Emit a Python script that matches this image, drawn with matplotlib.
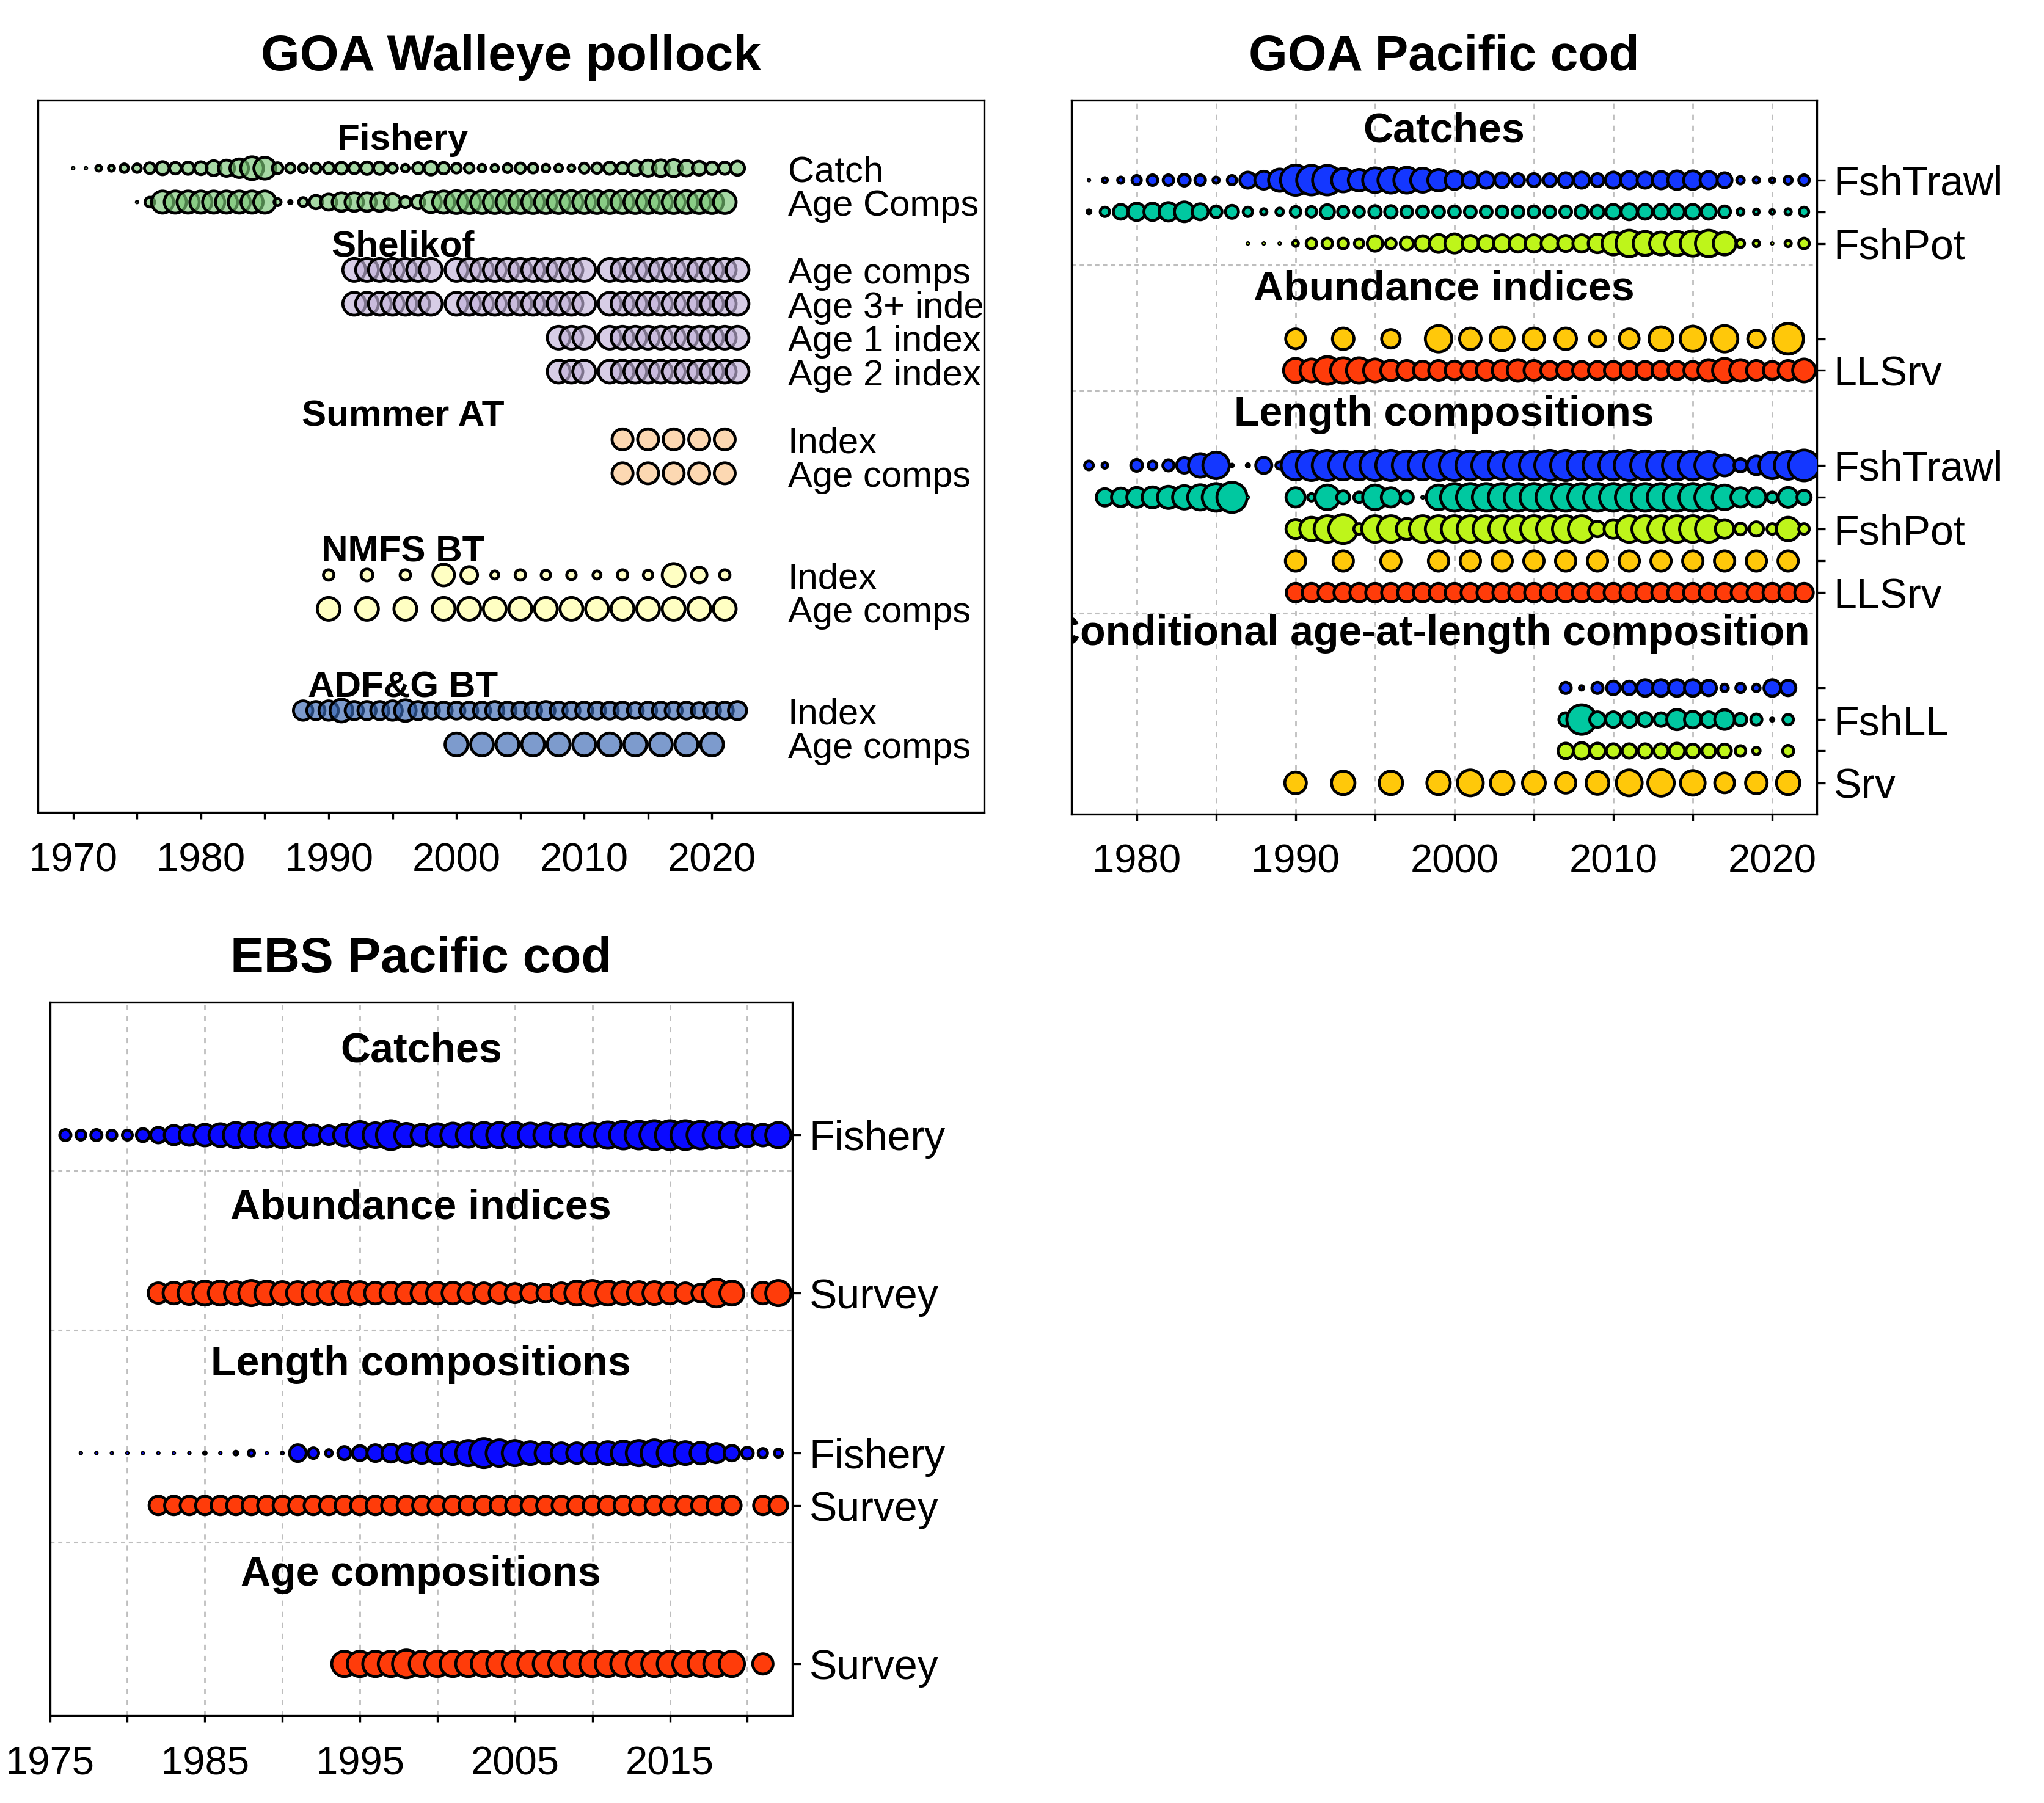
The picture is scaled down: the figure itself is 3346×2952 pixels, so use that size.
import numpy as np
import matplotlib.pyplot as plt
from matplotlib.colors import to_rgba

DPI = 200
EDGE_LW = 1.7                      # bubble outline width, points
EDGE_PX = EDGE_LW * DPI / 72.0     # same, in output pixels
PK_DMAX = 42.0                     # largest bubble in the pollock panel, output pixels

plt.rcParams['font.family'] = ['Liberation Sans', 'DejaVu Sans']

# ---------------- GOA walleye pollock ----------------
# catch in kt (bubble area ~ catch), other rows are relative sample sizes
pk_catch_years = np.arange(1970, 2023)
pk_catch = [9, 9, 35, 37, 60, 60, 86, 118, 96, 105, 115, 147, 169, 215, 307, 284, 87, 69, 65, 78,
            90, 100, 90, 108, 107, 72, 51, 90, 125, 95, 73, 72, 51, 50, 63, 80, 72, 52, 52, 44,
            77, 81, 104, 96, 142, 168, 177, 186, 158, 129, 108, 104, 133]

pk_fage_years = np.arange(1975, 2022)
pk_fage = [0.015, 0.24, 0.95, 0.95, 0.95, 0.95, 0.95, 0.95, 0.95, 0.95, 0.95,
           0.15, 0.06, 0.21, 0.40, 0.54, 0.69, 0.69, 0.69, 0.69, 0.57, 0.29, 0.40, 0.86, 0.95,
           1, 1, 1, 1, 1, 1, 1, 1, 1, 1, 1, 1, 1, 1, 1, 1, 1, 1, 1, 1, 1, 1]

pk_shel_years = [1992, 1993, 1994, 1995, 1996, 1997, 1998,
                 2000, 2001, 2002, 2003, 2004, 2005, 2006, 2007, 2008, 2009, 2010,
                 2012, 2013, 2014, 2015, 2016, 2017, 2018, 2019, 2020, 2021, 2022]
pk_shel_age12_years = [2008, 2009, 2010, 2012, 2013, 2014, 2015, 2016, 2017, 2018, 2019,
                       2020, 2021, 2022]

pk_sumat_years = [2013, 2015, 2017, 2019, 2021]

pk_nmfs_years = [1990, 1993, 1996, 1999, 2001, 2003, 2005, 2007, 2009, 2011, 2013, 2015,
                 2017, 2019, 2021]
pk_nmfs_index = [0.27, 0.33, 0.27, 0.91, 0.58, 0.18, 0.27, 0.23, 0.23, 0.18, 0.27, 0.23,
                 1.0, 0.51, 0.27]

pk_adfg_years = np.arange(1988, 2023)
pk_adfg_index = [0.75, 0.67, 0.75, 1.0, 0.67, 0.67, 0.67, 0.75, 0.91, 0.67,
                 0.6, 0.6, 0.6, 0.6, 0.6, 0.67, 0.6, 0.6, 0.6, 0.67,
                 0.6, 0.6, 0.6, 0.6, 0.6, 0.6, 0.53, 0.6, 0.6, 0.6,
                 0.6, 0.53, 0.6, 0.6, 0.67]
pk_adfg_age_years = [2000, 2002, 2004, 2006, 2008, 2010, 2012, 2014, 2016, 2018, 2020]

# ---------------- GOA Pacific cod (bubble diameters, px) ----------------
gc_catch_years = np.arange(1977, 2023)
gc_catch_trawl = [7, 13, 15, 20, 22, 22, 24, 22, 15, 20, 31, 34, 41, 54, 53, 53, 43, 40, 45, 47,
                  47, 44, 40, 35, 31, 31, 29, 26, 26, 26, 29, 31, 26, 31, 33, 31, 33, 35, 35, 33,
                  29, 17, 15, 13, 18, 22]
gc_catch_ll = [11, 20, 29, 33, 33, 35, 37, 31, 24, 26, 20, 15, 17, 22, 22, 28, 23, 22, 25, 25,
               24, 24, 24, 24, 24, 24, 24, 24, 24, 24, 24, 26, 26, 29, 31, 29, 29, 29, 29, 29,
               24, 16, 14, 12, 15, 20]
gc_pot_years = np.arange(1987, 2023)
gc_catch_pot = [6, 6, 5, 14, 22, 22, 22, 20, 30, 22, 26, 30, 34, 36, 31, 31, 33, 33, 33, 33,
                31, 33, 35, 42, 48, 44, 42, 44, 46, 48, 42, 18, 15, 7, 15, 22]

gc_srv_years = [1990, 1993, 1996, 1999, 2001, 2003, 2005, 2007, 2009, 2011, 2013, 2015,
                2017, 2019, 2021]
gc_srv_index = [37, 40, 35, 48, 40, 44, 40, 40, 31, 37, 44, 46, 48, 33, 55]
gc_llsrv_years = np.arange(1990, 2023)
gc_llsrv_index = [44, 42, 50, 46, 46, 42, 38, 37, 35, 37, 35, 35, 37, 37, 40, 37, 34, 34, 34, 34,
                  34, 34, 34, 34, 34, 34, 40, 44, 40, 37, 34, 37, 42]

gc_len_trawl_years = [1977, 1978] + list(range(1980, 2023))
gc_len_trawl = [19, 14, 24, 19, 23, 30, 43, 48, 9, 10, 31, 17,
                52, 54, 54, 52, 52, 54, 54, 52, 52, 54, 54, 52, 52, 50, 52, 52, 54, 54, 52, 52,
                52, 54, 52, 52, 52, 52, 50, 39, 26, 35, 48, 50, 55]
gc_len_ll_years = list(range(1978, 1988)) + list(range(1990, 2023))
gc_len_ll = [33, 35, 37, 39, 41, 43, 46, 50, 54, 5,
             36, 17, 45, 26, 22, 45, 36, 26, 8, 45,
             50, 50, 50, 50, 50, 50, 50, 50, 50, 50, 50, 50, 50, 50, 50, 50, 50,
             45, 36, 36, 22, 37, 28]
gc_len_pot = [36, 43, 48, 52, 22, 48, 48, 39, 48, 48, 48, 48, 48, 48, 48, 48, 48, 48, 48, 30,
              35, 48, 48, 48, 48, 48, 48, 35, 24, 28, 22, 43, 22]
gc_len_srv = [38, 38, 38, 38, 38, 38, 38, 38, 38, 38, 38, 38, 38, 38, 38]
gc_len_llsrv = [35, 35, 35, 35, 35, 35, 35, 35, 35, 35, 35, 35, 35, 35, 35, 35, 35,
                35, 35, 35, 35, 35, 35, 35, 35, 35, 35, 35, 35, 35, 35, 35, 35]

gc_caal_years = np.arange(2007, 2022)
gc_caal_trawl = [23, 12, 23, 27, 27, 32, 32, 32, 32, 30, 17, 20, 17, 32, 30]
gc_caal_ll = [27, 53, 30, 30, 30, 28, 27, 38, 32, 30, 37, 25, 23, 10, 22]
gc_caal_pot_years = [2007, 2008, 2009, 2010, 2011, 2012, 2013, 2014, 2015, 2016, 2017, 2018,
                     2019, 2021]
gc_caal_pot = [30, 32, 30, 28, 28, 28, 28, 30, 27, 27, 27, 22, 17, 23]
gc_caal_srv = [40, 43, 43, 43, 47, 43, 42, 38, 42, 47, 48, 45, 37, 40, 43]

# ---------------- EBS Pacific cod (bubble diameters, px) ----------------
ebs_catch_years = np.arange(1976, 2023)
ebs_catch = [23, 21, 23, 21, 21, 26, 30, 36, 38, 40, 42, 46, 46, 44, 46, 46, 38, 35, 40, 49,
             45, 52, 43, 40, 42, 44, 44, 46, 46, 46, 44, 44, 42, 42, 44, 48, 50, 50, 52, 52,
             52, 50, 48, 46, 42, 40, 46]
ebs_srv_years = list(range(1982, 2020)) + [2021, 2022]
ebs_srv_index = [38, 40, 42, 44, 44, 42, 46, 44, 42, 42, 42, 42, 44, 42, 40, 40, 40, 40, 40, 40,
                 38, 38, 38, 36, 36, 34, 38, 44, 46, 44, 42, 42, 42, 40, 38, 34, 50, 44, 40, 46]
ebs_len_fsh_years = np.arange(1977, 2023)
ebs_len_fsh = [5, 5, 5, 5, 5, 4, 6, 7, 9, 7, 11, 15, 6, 8, 32, 22, 16, 26, 29, 32,
               34, 36, 38, 40, 42, 46, 52, 48, 46, 42, 40, 38, 38, 40, 42, 44, 46, 48, 46, 42,
               40, 36, 30, 24, 20, 18]
ebs_len_srv = [35, 35, 35, 35, 35, 35, 35, 35, 35, 35, 35, 35, 35, 35, 35, 35, 35, 35, 35, 35,
               35, 35, 35, 35, 35, 35, 35, 35, 35, 35, 35, 35, 35, 35, 35, 35, 35, 35, 35, 35]
ebs_age_years = list(range(1994, 2020)) + [2021]
ebs_age_srv = [46, 46, 46, 46, 50, 46, 46, 46, 46, 46, 46, 46, 46, 46, 46, 46, 46, 46, 46, 46,
               46, 46, 46, 46, 46, 46, 38]


def px_to_s(d_px):
    # outer diameter in px -> scatter size (the outline is drawn centred on the edge)
    d = np.maximum(np.asarray(d_px, float) - EDGE_PX, 2.5)
    return (d * 72.0 / DPI) ** 2


def rel_to_px(v):
    v = np.asarray(v, float)
    return PK_DMAX * np.sqrt(v / v.max())


def bubbles(ax, years, y, d_px, color, alpha=1.0):
    ax.scatter(years, np.full(len(years), y), s=px_to_s(d_px),
               facecolors=[to_rgba(color, alpha)], edgecolors='black',
               linewidths=EDGE_LW, zorder=3)


fig = plt.figure(figsize=(3346 / DPI, 2952 / DPI), dpi=DPI)

# ======================= panel 1 =======================
ax1 = fig.add_axes([0.01865, 0.5495, 0.46282, 0.39482])
ax1.set_xlim(1967.26, 2041.3)
ax1.set_ylim(21, 0)

green, lav, peach, yel, steel = '#79C675', '#C2B2D9', '#FBC389', '#FFFFA3', '#3766B2'
A = 0.65
bubbles(ax1, pk_catch_years, 2, rel_to_px(pk_catch), green, A)
bubbles(ax1, pk_fage_years, 3, rel_to_px(pk_fage), green, A)
for yy in (5, 6):
    bubbles(ax1, pk_shel_years, yy, rel_to_px(np.ones(len(pk_shel_years))), lav, A)
for yy in (7, 8):
    bubbles(ax1, pk_shel_age12_years, yy, rel_to_px(np.ones(len(pk_shel_age12_years))), lav, A)
for yy in (10, 11):
    bubbles(ax1, pk_sumat_years, yy, rel_to_px(np.ones(len(pk_sumat_years))) - 3, peach, A)
bubbles(ax1, pk_nmfs_years, 14, rel_to_px(pk_nmfs_index), yel, A)
bubbles(ax1, pk_nmfs_years, 15, rel_to_px(np.ones(len(pk_nmfs_years))), yel, A)
bubbles(ax1, pk_adfg_years, 18, rel_to_px(pk_adfg_index), steel, A)
bubbles(ax1, pk_adfg_age_years, 19, rel_to_px(np.ones(len(pk_adfg_age_years))), steel, A)

pk_heads = [(1.45, 'Fishery'), (4.6, 'Shelikof'), (9.6, 'Summer AT'),
            (13.6, 'NMFS BT'), (17.6, 'ADF&G BT')]
for yy, t in pk_heads:
    ax1.text(1995.8, yy, t, ha='center', va='baseline', fontsize=21.7,
             fontweight='bold', zorder=5)
pk_labels = [(2, 'Catch'), (3, 'Age Comps'), (5, 'Age comps'), (6, 'Age 3+ index'),
             (7, 'Age 1 index'), (8, 'Age 2 index'), (10, 'Index'), (11, 'Age comps'),
             (14, 'Index'), (15, 'Age comps'), (18, 'Index'), (19, 'Age comps')]
for yy, t in pk_labels:
    ax1.text(2025.95, yy + 0.4, t, ha='left', va='baseline', fontsize=21.5, clip_on=True)

ax1.set_xticks(np.arange(1970, 2021, 5))
ax1.set_xticklabels([str(y) if y % 10 == 0 else '' for y in range(1970, 2021, 5)])
ax1.set_yticks([])
ax1.tick_params(axis='x', length=4, width=1.2, pad=14, labelsize=23.5)

# ======================= panel 2 =======================
ax2 = fig.add_axes([0.52421, 0.5484, 0.36461, 0.39592])
ax2.set_xlim(1975.9, 2022.8)
ax2.set_ylim(22.55, 0)

c_trawl, c_ll, c_pot, c_srv, c_llsrv = '#1437FF', '#00C8A0', '#BEF51A', '#FFC80A', '#FF3C0A'
bubbles(ax2, gc_catch_years, 2.52, gc_catch_trawl, c_trawl)
bubbles(ax2, gc_catch_years, 3.52, gc_catch_ll, c_ll)
bubbles(ax2, gc_pot_years, 4.52, gc_catch_pot, c_pot)
bubbles(ax2, gc_srv_years, 7.53, gc_srv_index, c_srv)
bubbles(ax2, gc_llsrv_years, 8.53, gc_llsrv_index, c_llsrv)
bubbles(ax2, gc_len_trawl_years, 11.53, gc_len_trawl, c_trawl)
bubbles(ax2, gc_len_ll_years, 12.54, gc_len_ll, c_ll)
bubbles(ax2, gc_llsrv_years, 13.54, gc_len_pot, c_pot)
bubbles(ax2, gc_srv_years, 14.55, gc_len_srv, c_srv)
bubbles(ax2, gc_llsrv_years, 15.55, gc_len_llsrv, c_llsrv)
bubbles(ax2, gc_caal_years, 18.56, gc_caal_trawl, c_trawl)
bubbles(ax2, gc_caal_years, 19.56, gc_caal_ll, c_ll)
bubbles(ax2, gc_caal_pot_years, 20.55, gc_caal_pot, c_pot)
bubbles(ax2, gc_srv_years, 21.56, gc_caal_srv, c_srv)

for yr in range(1980, 2021, 5):
    ax2.axvline(yr, color='#BEBEBE', lw=1.0, ls=(0, (3, 3.5)), zorder=0.5)
for yy in (5.2, 9.18, 16.2):
    ax2.axhline(yy, color='#BEBEBE', lw=1.1, ls=(0, (2.2, 2.0)), zorder=0.5)

gc_heads = [(1999.35, 1.32, 'Catches'), (1999.35, 6.32, 'Abundance indices'),
            (1999.35, 10.27, 'Length compositions'),
            (1998.45, 17.2, 'Conditional age-at-length composition')]
for xx, yy, t in gc_heads:
    ax2.text(xx, yy, t, ha='center', va='baseline', fontsize=24.5,
             fontweight='bold', clip_on=True, zorder=5)

gc_rows = [2.52, 3.52, 4.52, 7.53, 8.53, 11.53, 12.54, 13.54, 14.55, 15.55,
           18.56, 19.56, 20.55, 21.56]
gc_rowlab = ['FshTrawl', '', 'FshPot', '', 'LLSrv', 'FshTrawl', '', 'FshPot', '', 'LLSrv',
             '', 'FshLL', '', 'Srv']
ax2.yaxis.tick_right()
ax2.set_yticks(gc_rows)
ax2.set_yticklabels(gc_rowlab)
ax2.set_xticks(np.arange(1980, 2021, 5))
ax2.set_xticklabels([str(y) if y % 10 == 0 else '' for y in range(1980, 2021, 5)])
ax2.tick_params(axis='y', length=5, width=1.2, pad=5, labelsize=24.5)
ax2.tick_params(axis='x', length=4, width=1.2, pad=13.5, labelsize=23.5)

# ======================= panel 3 =======================
ax3 = fig.add_axes([0.02439, 0.04845, 0.36324, 0.39552])
ax3.set_xlim(1975.0, 2022.9)
ax3.set_ylim(13.5, 0)

e_blue, e_red = '#0A0AFF', '#FF3C0A'
bubbles(ax3, ebs_catch_years, 2.51, ebs_catch, e_blue)
bubbles(ax3, ebs_srv_years, 5.5, ebs_srv_index, e_red)
bubbles(ax3, ebs_len_fsh_years, 8.53, ebs_len_fsh, e_blue)
bubbles(ax3, ebs_srv_years, 9.52, ebs_len_srv, e_red)
bubbles(ax3, ebs_age_years, 12.52, ebs_age_srv, e_red)

for yr in range(1980, 2021, 5):
    ax3.axvline(yr, color='#BEBEBE', lw=1.0, ls=(0, (3, 3.5)), zorder=0.5)
for yy in (3.19, 6.2, 10.22):
    ax3.axhline(yy, color='#BEBEBE', lw=1.1, ls=(0, (2.2, 2.0)), zorder=0.5)

ebs_mid = 1998.95
ebs_heads = [(1.12, 'Catches'), (4.1, 'Abundance indices'), (7.06, 'Length compositions'),
             (11.04, 'Age compositions')]
for yy, t in ebs_heads:
    ax3.text(ebs_mid, yy, t, ha='center', va='baseline', fontsize=24.5,
             fontweight='bold', clip_on=True, zorder=5)

ax3.yaxis.tick_right()
ax3.set_yticks([2.51, 5.5, 8.53, 9.52, 12.52])
ax3.set_yticklabels(['Fishery', 'Survey', 'Fishery', 'Survey', 'Survey'])
ax3.set_xticks(np.arange(1975, 2021, 5))
ax3.set_xticklabels([str(y) if y % 10 == 5 else '' for y in range(1975, 2021, 5)])
ax3.tick_params(axis='y', length=5, width=1.2, pad=5, labelsize=24.5)
ax3.tick_params(axis='x', length=4, width=1.2, pad=14, labelsize=23.5)

for ax in (ax1, ax2, ax3):
    for sp in ax.spines.values():
        sp.set_linewidth(1.2)

fig.text(0.25006, 0.961, 'GOA Walleye pollock', ha='center', va='baseline',
         fontsize=29.5, fontweight='bold')
fig.text(0.70652, 0.961, 'GOA Pacific cod', ha='center', va='baseline',
         fontsize=29.5, fontweight='bold')
fig.text(0.20601, 0.4606, 'EBS Pacific cod', ha='center', va='baseline',
         fontsize=29.5, fontweight='bold')

fig.savefig('out.png', dpi=DPI)
